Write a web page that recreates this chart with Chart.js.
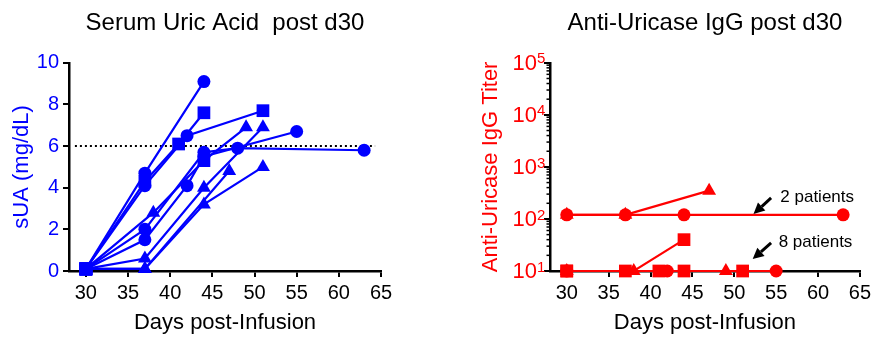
<!DOCTYPE html>
<html>
<head>
<meta charset="utf-8">
<script src="https://cdn.jsdelivr.net/npm/chart.js@4.4.1/dist/chart.umd.min.js"></script>
<style>
    body { margin: 0; background: #fff; width: 875px; height: 337px; position: relative; overflow: hidden; }
    canvas { position: absolute; top: 0; }
</style>
</head>
<body>
<canvas id="suaChart" width="440" height="337" style="left:0"></canvas>
<canvas id="iggChart" width="435" height="337" style="left:440px"></canvas>
<script>
// ---- data ----
const dayTicks = [30, 35, 40, 45, 50, 55, 60, 65];
const suaTicks = [0, 2, 4, 6, 8, 10];
const titerTicks = [10, 100, 1000, 10000, 100000];
const suaLimit = 6;
const limitDays = [28.7, 64.3];

// serum uric acid, one row per patient
const suaDays = [
    [30, 37, 44],
    [30, 37, 41, 44],
    [30, 37, 42, 51],
    [30, 37, 44, 48, 63],
    [30, 37, 42, 44, 55],
    [30, 38, 44, 49],
    [30, 37, 44, 51],
    [30, 37, 44, 51],
    [30, 37, 47]
];
const suaValues = [
    [0.1, 4.7, 9.1],
    [0.1, 4.3, 6.1, 7.6],
    [0.1, 4.1, 6.5, 7.7],
    [0.1, 2.0, 5.7, 5.9, 5.8],
    [0.1, 1.5, 4.1, 5.5, 6.7],
    [0.1, 2.8, 5.3, 6.9],
    [0.1, 0.6, 4.0, 6.9],
    [0.1, 0.1, 3.2, 5.0],
    [0.1, 0.1, 4.8]
];

// anti-uricase IgG titer
const iggDays = [
    [30, 37, 44, 63],
    [30, 37, 47],
    [30, 38, 44],
    [30, 37, 41, 44, 51],
    [30, 42, 55],
    [30, 49]
];
const iggValues = [
    [120, 120, 120, 120],
    [120, 120, 350],
    [10, 10, 40],
    [10, 10, 10, 10, 10],
    [10, 10, 10],
    [10, 10]
];

// arrow notes on the titer chart
const noteText = ['2 patients', '8 patients'];
const noteTipDay = [52.3, 52.2];
const noteTipTiter = [125, 17];
const noteTailDay = [54.4, 54.4];
const noteTailTiter = [253, 34.6];
const noteLabelDay = [55.5, 55.3];
const noteLabelTiter = [265, 36];

// ---- styles ----
const BLUE = '#0000ff';
const RED = '#ff0000';
const FONT = '"Liberation Sans", Arial, sans-serif';

const suaMarks = [
    ['rect', 'circle', 'circle'],
    ['rect', 'rect', 'rect', 'rect'],
    ['rect', 'circle', 'circle', 'rect'],
    ['rect', 'circle', 'circle', 'circle', 'circle'],
    ['rect', 'circle', 'circle', 'circle', 'circle'],
    ['rect', 'triangle', 'rect', 'triangle'],
    ['rect', 'triangle', 'triangle', 'triangle'],
    ['rect', 'triangle', 'triangle', 'triangle'],
    ['rect', 'triangle', 'triangle']
];
const iggMarks = [
    ['circle', 'circle', 'circle', 'circle'],
    ['triangle', 'triangle', 'triangle'],
    ['rect', 'triangle', 'rect'],
    ['rect', 'rect', 'rect', 'rect', 'rect'],
    ['circle', 'circle', 'circle'],
    ['triangle', 'triangle']
];
const markSize = { circle: 6.5, rect: 9, triangle: 8 };

Chart.defaults.font.family = FONT;
Chart.defaults.animation = false;

function makeSets(days, values, marks, color) {
    return days.map((d, i) => ({
        data: d.map((x, j) => ({ x: x, y: values[i][j] })),
        borderColor: color,
        backgroundColor: color,
        borderWidth: 2.2,
        pointStyle: marks[i],
        pointRadius: marks[i].map(m => markSize[m]),
        pointBorderWidth: 0,
        tension: 0,
        clip: false
    }));
}

function axisX() {
    return {
        type: 'linear',
        min: 28,
        max: 65,
        afterBuildTicks: s => { s.ticks = dayTicks.map(v => ({ value: v })); },
        afterFit: s => { s.height = 66; },
        border: { color: '#000', width: 2.5 },
        grid: { drawOnChartArea: false, tickLength: 6, color: '#000', lineWidth: 2 },
        ticks: { color: '#000', font: { size: 20 }, padding: 4, maxRotation: 0 },
        title: { display: true, text: 'Days post-Infusion', color: '#000', font: { size: 22 }, padding: { top: 0, bottom: 1 } }
    };
}

function chartTitle(text) {
    return {
        display: true, text: text, color: '#000', fullSize: false,
        font: { size: 24, weight: 'normal' },
        padding: { top: 9, bottom: 25 }
    };
}

// ---- Serum Uric Acid ----
const suaSets = makeSets(suaDays, suaValues, suaMarks, BLUE);
suaSets.push({
    data: limitDays.map(x => ({ x: x, y: suaLimit })),
    borderColor: '#000',
    borderWidth: 2,
    borderDash: [2, 3],
    pointRadius: 0
});

new Chart(document.getElementById('suaChart'), {
    type: 'line',
    data: { datasets: suaSets },
    options: {
        responsive: false,
        layout: { padding: { right: 59 } },
        plugins: { legend: { display: false }, tooltip: { enabled: false }, title: chartTitle('Serum Uric Acid  post d30') },
        scales: {
            x: axisX(),
            y: {
                min: 0,
                max: 10,
                afterBuildTicks: s => { s.ticks = suaTicks.map(v => ({ value: v })); },
                afterFit: s => { s.width = 69; },
                border: { color: '#000', width: 2.5 },
                grid: { drawOnChartArea: false, tickLength: 6, color: '#000', lineWidth: 2 },
                ticks: { color: BLUE, font: { size: 20 }, padding: 4 },
                title: { display: true, text: 'sUA (mg/dL)', color: BLUE, font: { size: 22 }, padding: { top: 9, bottom: 0 } }
            }
        }
    }
});

// ---- Anti-Uricase IgG ----
const logAxis = {
    id: 'logAxis',
    afterDraw(chart) {
        const ctx = chart.ctx;
        const xs = chart.scales.x, ys = chart.scales.y;
        const x0 = chart.chartArea.left;
        ctx.save();
        // minor ticks
        ctx.strokeStyle = '#000';
        ctx.lineWidth = 1.5;
        for (let e = 1; e < 5; e++) {
            for (let m = 2; m < 10; m++) {
                const py = ys.getPixelForValue(m * Math.pow(10, e));
                ctx.beginPath();
                ctx.moveTo(x0 - 3.5, py);
                ctx.lineTo(x0, py);
                ctx.stroke();
            }
        }
        // 10^n labels
        ctx.fillStyle = RED;
        titerTicks.forEach(v => {
            const py = ys.getPixelForValue(v);
            ctx.font = '22px ' + FONT;
            ctx.textAlign = 'right';
            ctx.textBaseline = 'middle';
            ctx.fillText('10', x0 - 13, py + 1);
            ctx.font = '15px ' + FONT;
            ctx.textAlign = 'left';
            ctx.textBaseline = 'top';
            ctx.fillText(String(Math.round(Math.log10(v))), x0 - 13, py - 11);
        });
        // arrows and notes
        ctx.fillStyle = '#000';
        ctx.strokeStyle = '#000';
        noteText.forEach((t, i) => {
            const tx = xs.getPixelForValue(noteTipDay[i]), ty = ys.getPixelForValue(noteTipTiter[i]);
            const sx = xs.getPixelForValue(noteTailDay[i]), sy = ys.getPixelForValue(noteTailTiter[i]);
            const a = Math.atan2(ty - sy, tx - sx);
            const len = 11, half = 5.5;
            const bx = tx - len * Math.cos(a), by = ty - len * Math.sin(a);
            ctx.lineWidth = 3;
            ctx.beginPath();
            ctx.moveTo(sx, sy);
            ctx.lineTo(bx, by);
            ctx.stroke();
            ctx.beginPath();
            ctx.moveTo(tx, ty);
            ctx.lineTo(bx + half * Math.sin(a), by - half * Math.cos(a));
            ctx.lineTo(bx - half * Math.sin(a), by + half * Math.cos(a));
            ctx.closePath();
            ctx.fill();
            ctx.font = '17px ' + FONT;
            ctx.textAlign = 'left';
            ctx.textBaseline = 'middle';
            ctx.fillText(t, xs.getPixelForValue(noteLabelDay[i]), ys.getPixelForValue(noteLabelTiter[i]));
        });
        ctx.restore();
    }
};

new Chart(document.getElementById('iggChart'), {
    type: 'line',
    data: { datasets: makeSets(iggDays, iggValues, iggMarks, RED) },
    options: {
        responsive: false,
        layout: { padding: { left: 38, right: 12 } },
        plugins: { legend: { display: false }, tooltip: { enabled: false }, title: chartTitle('Anti-Uricase IgG post d30') },
        scales: {
            x: axisX(),
            y: {
                type: 'logarithmic',
                min: 10,
                max: 100000,
                afterBuildTicks: s => { s.ticks = titerTicks.map(v => ({ value: v })); },
                afterFit: s => { s.width = 72; },
                border: { color: '#000', width: 2.5 },
                grid: { drawOnChartArea: false, tickLength: 6, color: '#000', lineWidth: 2 },
                ticks: { callback: () => '', padding: 0 },
                title: { display: true, text: 'Anti-Uricase IgG Titer', color: RED, font: { size: 22 }, padding: { top: 0, bottom: 0 } }
            }
        }
    },
    plugins: [logAxis]
});
</script>
</body>
</html>
